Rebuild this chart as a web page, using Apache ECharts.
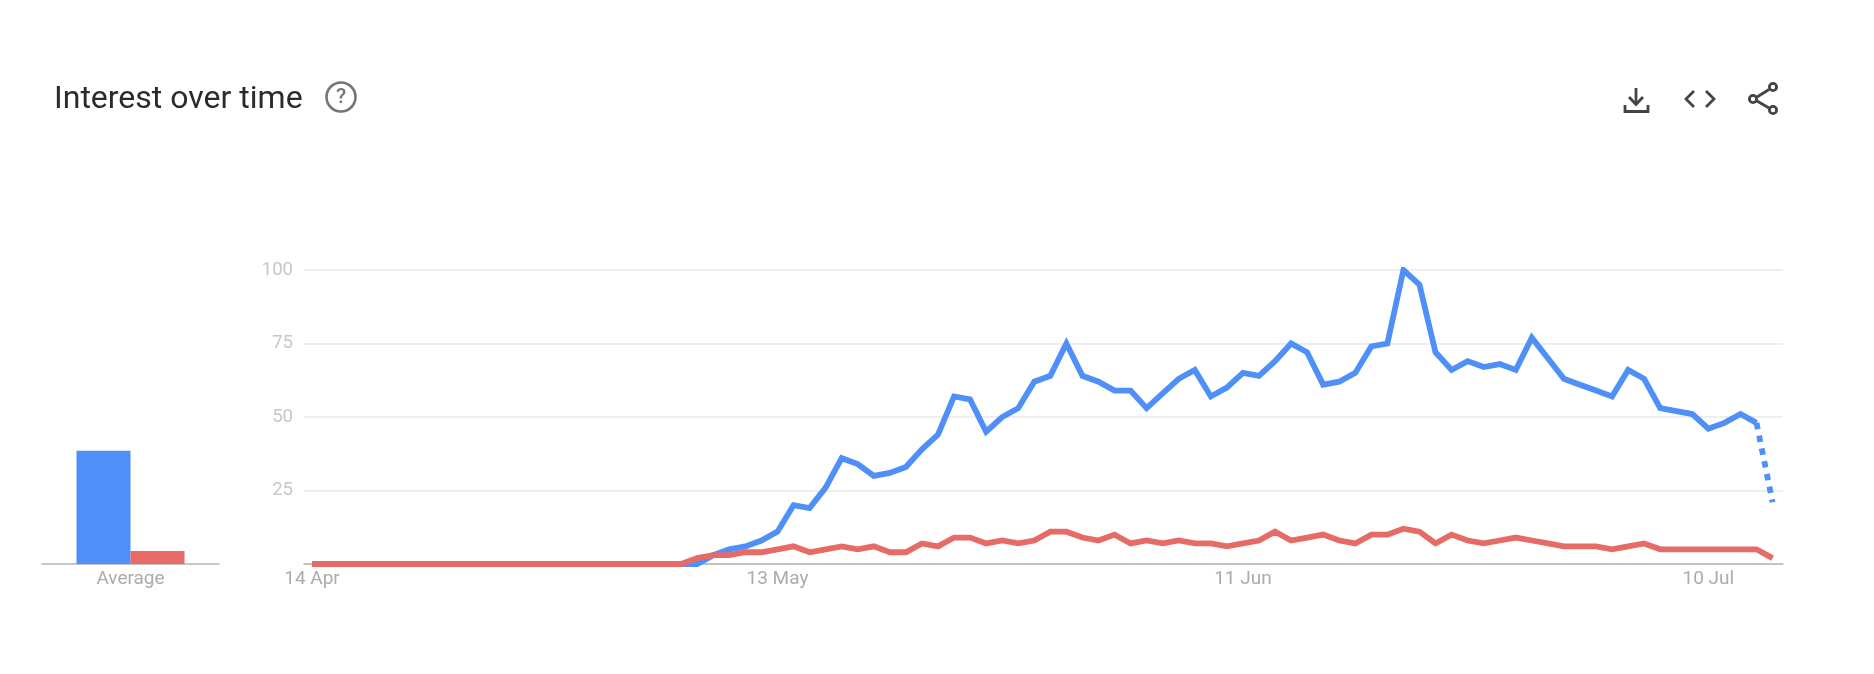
<!DOCTYPE html>
<html><head><meta charset="utf-8">
<style>html,body{margin:0;padding:0;background:#fff}#c{width:1874px;height:674px}</style>
<script src="https://cdn.jsdelivr.net/npm/echarts@6/dist/echarts.min.js"></script>
</head><body><div id="c"></div>
<script>
const titleText = 'Interest over time';
const xTickIndex = [0, 29, 58, 87];
const xTickLabels = ['14 Apr', '13 May', '11 Jun', '10 Jul'];
const yTickValues = [25, 50, 75, 100];
const averageCategory = ['Average'];
const averageBlue = [38.5];
const averageRed = [4.4];
const blueValues = [
  0,0,0,0,0,0,0,0,0,0,0,0,0,0,0,0,0,0,0,0,0,0,0,0,
  0,3,5,6,8,11,20,19,26,36,34,30,31,33,39,44,57,56,45,50,53,62,64,75,64,62,59,
  59,53,58,63,66,57,60,65,64,69,75,72,61,62,65,74,75,100,95,72,66,69,67,68,66,
  77,70,63,61,59,57,66,63,53,52,51,46,48,51,48,21
];
const redValues = [
  0,0,0,0,0,0,0,0,0,0,0,0,0,0,0,0,0,0,0,0,0,0,0,0,
  2,3,3,4,4,5,6,4,5,6,5,6,4,4,7,6,9,9,7,8,7,8,11,11,9,8,10,
  7,8,7,8,7,7,6,7,8,11,8,9,10,8,7,10,10,12,11,7,10,8,7,8,9,
  8,7,6,6,6,5,6,7,5,5,5,5,5,5,5,2
];
const partialFrom = 90; // last stretch of the blue line is a partial-data estimate

const blue = '#4f8ff8', red = '#e66b66';
const pairs = (arr, from, to) => arr.slice(from, to).map((v, i) => [from + i, v]);
const iconStroke = { stroke: '#444', lineWidth: 2.8, fill: null, lineJoin: 'miter' };

const chart = echarts.init(document.getElementById('c'), null, { renderer: 'canvas' });
chart.setOption({
  backgroundColor: '#fff',
  animation: false,
  title: {
    text: titleText, left: 49, top: 79,
    textStyle: { fontFamily: 'Roboto', fontSize: 32, fontWeight: 400, color: '#2a2b2e' }
  },
  grid: [
    { left: 304, right: 91, top: 270, bottom: 110 },
    { left: 42, width: 177, top: 270, bottom: 110 }
  ],
  xAxis: [
    {
      type: 'value', gridIndex: 0, min: -0.5, max: 91.65, splitLine: { show: false },
      axisLine: { lineStyle: { color: '#b4b4b4', width: 1.5 } },
      axisTick: { show: false },
      axisLabel: {
        customValues: xTickIndex,
        formatter: v => xTickLabels[xTickIndex.indexOf(v)] || '',
        color: '#ababab', fontFamily: 'Roboto', fontSize: 19, margin: 6
      }
    },
    {
      type: 'category', gridIndex: 1, data: averageCategory,
      axisLine: { lineStyle: { color: '#b4b4b4', width: 1.5 } },
      axisTick: { show: false },
      axisLabel: { color: '#ababab', fontFamily: 'Roboto', fontSize: 19, margin: 6 }
    }
  ],
  yAxis: [
    {
      type: 'value', gridIndex: 0, min: 0, max: 100, interval: 25,
      axisLine: { show: false }, axisTick: { show: false },
      splitLine: { lineStyle: { color: '#e8e8e8', width: 1.5 } },
      axisLabel: {
        formatter: v => yTickValues.includes(v) ? String(v) : '',
        color: '#c6c6c6', fontFamily: 'Roboto', fontSize: 18.5, margin: 11
      }
    },
    { type: 'value', gridIndex: 1, min: 0, max: 100, show: false }
  ],
  series: [
    { type: 'bar', xAxisIndex: 1, yAxisIndex: 1, data: averageBlue, barWidth: 54, barGap: 0,
      itemStyle: { color: blue } },
    { type: 'bar', xAxisIndex: 1, yAxisIndex: 1, data: averageRed, barWidth: 54, barGap: 0,
      itemStyle: { color: red } },
    { type: 'line', data: pairs(blueValues, 0, partialFrom + 1), showSymbol: false, symbol: 'none',
      lineStyle: { color: blue, width: 5.8, join: 'miter' } },
    { type: 'line', data: pairs(blueValues, partialFrom), showSymbol: false, symbol: 'none',
      lineStyle: { color: blue, width: 5.8, type: [6.5, 6.5] } },
    { type: 'line', data: pairs(redValues, 0), showSymbol: false, symbol: 'none',
      lineStyle: { color: red, width: 5.8, join: 'miter' } }
  ],
  graphic: [
    { type: 'circle', shape: { cx: 341, cy: 97, r: 14.5 }, style: { stroke: '#757575', lineWidth: 2.6, fill: null } },
    { type: 'text', x: 341, y: 98, style: { text: '?', fill: '#757575', font: '500 21px Roboto', align: 'center', verticalAlign: 'middle' } },
    { type: 'polyline', shape: { points: [[1636, 88], [1636, 104]] }, style: iconStroke },
    { type: 'polyline', shape: { points: [[1629, 97], [1636, 104.5], [1643, 97]] }, style: iconStroke },
    { type: 'polyline', shape: { points: [[1625, 105], [1625, 111.5], [1648, 111.5], [1648, 105]] }, style: iconStroke },
    { type: 'polyline', shape: { points: [[1694, 91], [1686, 99], [1694, 107]] }, style: iconStroke },
    { type: 'polyline', shape: { points: [[1706, 91], [1714, 99], [1706, 107]] }, style: iconStroke },
    { type: 'polyline', shape: { points: [[1769, 89.5], [1757, 97]] }, style: iconStroke },
    { type: 'polyline', shape: { points: [[1757, 101], [1769, 108]] }, style: iconStroke },
    { type: 'circle', shape: { cx: 1773, cy: 87, r: 3.6 }, style: iconStroke },
    { type: 'circle', shape: { cx: 1753, cy: 99, r: 3.6 }, style: iconStroke },
    { type: 'circle', shape: { cx: 1773, cy: 110, r: 3.6 }, style: iconStroke }
  ]
});
</script></body></html>
